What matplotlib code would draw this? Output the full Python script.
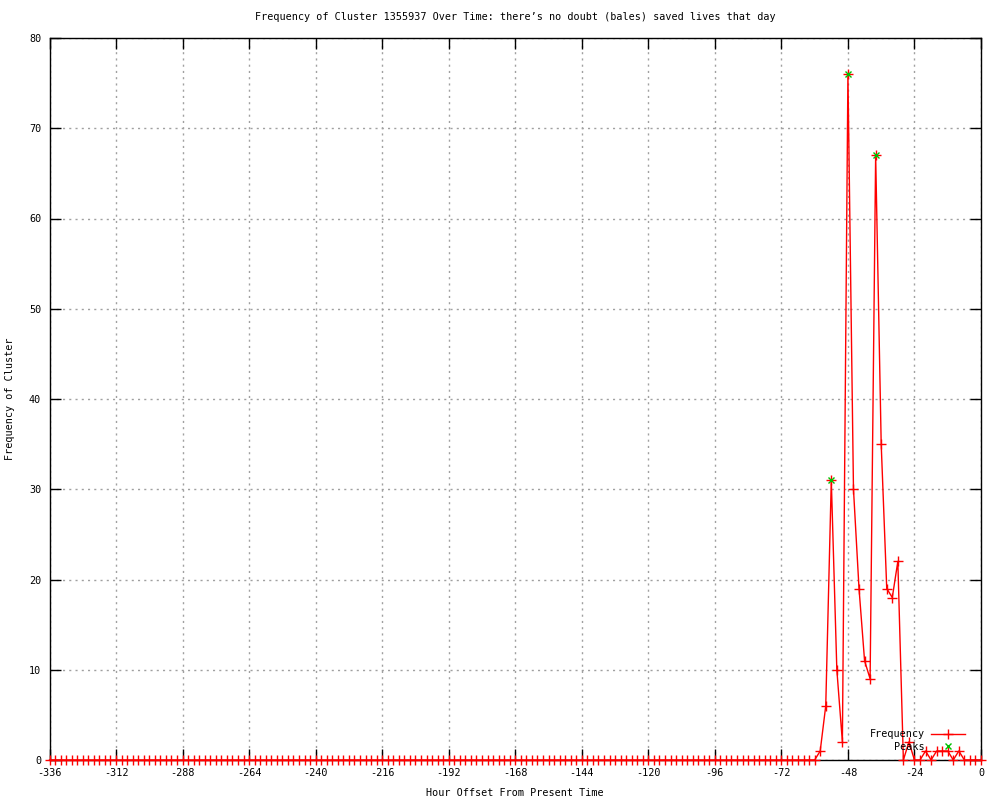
import matplotlib
matplotlib.use('Agg')
import matplotlib.pyplot as plt
import numpy as np

plt.rcParams['font.family'] = 'DejaVu Sans Mono'
plt.rcParams['font.size'] = 7.3
plt.rcParams['axes.unicode_minus'] = False

# Hour offsets (every 2 hours over two weeks)
hours = np.arange(-336, 1, 2)

# Frequency per 2-hour bin: flat zero until -60, then the burst
freq = [0] * 139 + [
    1, 6, 31, 10, 2, 76, 30, 19, 11, 9,
    67, 35, 19, 18, 22, 0, 2, 0, 0, 1,
    0, 1, 1, 1, 0, 1, 0, 0, 0, 0,
]

peak_hours = [-54, -48, -38]
peak_vals = [31, 76, 67]

xticks = list(range(-336, 1, 24))
yticks = list(range(0, 81, 10))

title = 'Frequency of Cluster 1355937 Over Time: there\u2019s no doubt (bales) saved lives that day'

fig = plt.figure(figsize=(10, 8), dpi=100)
ax = fig.add_axes([0.0495, 0.05, 0.9315, 0.9025])

ax.plot(hours, freq, color='red', linewidth=1, marker='+', markersize=7,
        markeredgewidth=1, label='Frequency', clip_on=False, zorder=3)
ax.plot(peak_hours, peak_vals, linestyle='none', color='#00c000', marker='x',
        markersize=5, markeredgewidth=1, label='Peaks', zorder=4)

ax.set_xlim(-336, 0)
ax.set_ylim(0, 80)
ax.set_xticks(xticks)
ax.set_yticks(yticks)
ax.tick_params(direction='in', length=8, width=1, top=True, right=True,
               labeltop=False, labelright=False, pad=6)
ax.grid(True, color='#a0a0a0', linestyle=(0, (1.5, 3)), linewidth=1)
for s in ax.spines.values():
    s.set_linewidth(1)
    s.set_zorder(2.5)

ax.set_title(title, fontsize=7.3, pad=13)
ax.set_xlabel('Hour Offset From Present Time', labelpad=7)
ax.set_ylabel('Frequency of Cluster', labelpad=10)

ax.legend(loc='lower right', bbox_to_anchor=(0.992, 0.0), frameon=False,
          markerfirst=False, handlelength=3.4, handletextpad=0.6,
          labelspacing=0.25, borderpad=0.3)

fig.savefig('out.png', dpi=100)
